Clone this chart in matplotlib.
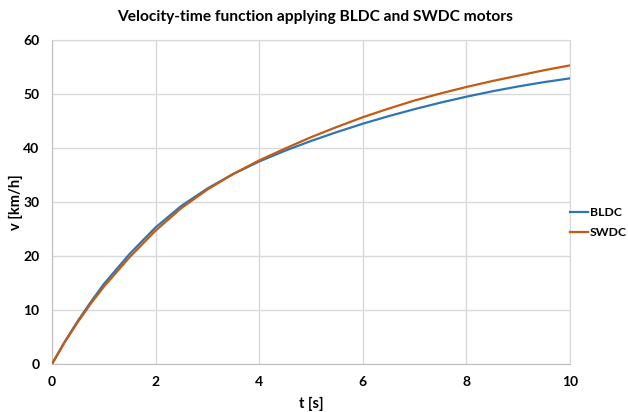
import matplotlib.pyplot as plt

# Velocity readings (km/h) taken off the curves
t = [0, 0.25, 0.5, 0.75, 1, 1.5, 2, 2.5, 3, 3.5, 4, 4.5, 5, 5.5, 6, 6.5, 7,
     7.5, 8, 8.5, 9, 9.5, 10]
bldc = [0, 4.2, 8.0, 11.5, 14.8, 20.4, 25.3, 29.3, 32.5, 35.2, 37.5, 39.5,
        41.3, 42.95, 44.5, 45.9, 47.2, 48.4, 49.5, 50.5, 51.4, 52.2, 52.9]
swdc = [0, 4.1, 7.8, 11.2, 14.3, 19.8, 24.7, 28.9, 32.3, 35.2, 37.7, 39.9,
        42.0, 43.9, 45.7, 47.3, 48.8, 50.1, 51.3, 52.4, 53.4, 54.4, 55.3]

x_ticks = [0, 2, 4, 6, 8, 10]
y_ticks = [0, 10, 20, 30, 40, 50, 60]

plt.rcParams["font.family"] = ["Lato", "DejaVu Sans"]

fig = plt.figure(figsize=(6.28, 4.12), dpi=100)
ax = fig.add_axes([52 / 628, 48 / 412, 518 / 628, 324 / 412])

ax.plot(t, bldc, color="#2E75B6", lw=1.6, label="BLDC", zorder=3)
ax.plot(t, swdc, color="#C55A11", lw=1.6, label="SWDC", zorder=3)

ax.set_xlim(0, 10)
ax.set_ylim(0, 60)
ax.set_xticks(x_ticks)
ax.set_yticks(y_ticks)
ax.tick_params(axis="x", length=0, labelsize=10, pad=9)
ax.tick_params(axis="y", length=0, labelsize=10, pad=9)
for lab in ax.get_xticklabels() + ax.get_yticklabels():
    lab.set_fontweight("bold")

ax.grid(True, color="#d9d9d9", lw=1)
ax.set_axisbelow(True)
for side in ["top", "right"]:
    ax.spines[side].set_color("#d9d9d9")
for side in ["left", "bottom"]:
    ax.spines[side].set_color("#bfbfbf")

ax.set_xlabel("t [s]", fontsize=10.5, fontweight="bold", va="center")
ax.set_ylabel("v [km/h]", fontsize=10.5, fontweight="bold", va="center")
ax.xaxis.set_label_coords(0.5, (364 - 404) / 324)
ax.yaxis.set_label_coords((16 - 52) / 518, 0.5)
fig.text(315 / 628, 1 - 17 / 412, "Velocity-time function applying BLDC and SWDC motors",
         ha="center", va="center", fontsize=11.2, fontweight="bold")

fig.legend(loc="center left", bbox_to_anchor=(570 / 628, 1 - 222.5 / 412), frameon=False,
           borderaxespad=0, borderpad=0, handlelength=1.5, handletextpad=0.12,
           labelspacing=0.7, prop={"weight": "bold", "size": 8.8})

fig.savefig("out.png", dpi=100)
